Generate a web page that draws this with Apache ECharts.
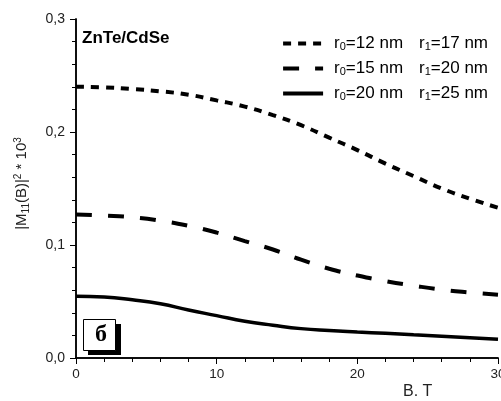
<!DOCTYPE html>
<html><head><meta charset="utf-8">
<script src="https://cdn.jsdelivr.net/npm/echarts@6/dist/echarts.min.js"></script>
<style>html,body{margin:0;padding:0;background:#fff}#c{width:501px;height:401px}</style>
</head><body><div id="c"></div>
<script>
var B = [0, 2, 4, 6, 8, 10, 12, 14, 16, 18, 20, 22, 24, 26, 28, 30];
var s1 = [0.240, 0.2395, 0.238, 0.236, 0.233, 0.228, 0.2225, 0.215, 0.206, 0.195, 0.184, 0.172, 0.161, 0.150, 0.141, 0.133];
var s2 = [0.127, 0.126, 0.1245, 0.1215, 0.117, 0.111, 0.1035, 0.096, 0.087, 0.079, 0.073, 0.068, 0.064, 0.0605, 0.058, 0.056];
var s3 = [0.0547, 0.054, 0.0515, 0.048, 0.0425, 0.0375, 0.0325, 0.029, 0.026, 0.0243, 0.023, 0.0218, 0.0205, 0.0193, 0.018, 0.0165];
var names = ['r0=12 nm r1=17 nm', 'r0=15 nm r1=20 nm', 'r0=20 nm r1=25 nm'];
var legendParts = [['12', '17'], ['15', '20'], ['20', '25']];
var xTicks = { min: 0, max: 30, interval: 10 };
var yTicks = { min: 0, max: 0.3, interval: 0.1 };

function pairs(ys) { return B.map(function (b, i) { return [b, ys[i]]; }); }
var FONT = 'Liberation Sans, Arial, sans-serif';
var axisLine = { lineStyle: { color: '#000', width: 1.5 } };

var chart = echarts.init(document.getElementById('c'));
chart.setOption({
  animation: false,
  grid: { left: 76, right: 3, top: 19, bottom: 43, outerBoundsMode: 'none', containLabel: false },
  legend: {
    orient: 'vertical', right: 8, top: 30, align: 'left', itemGap: 8,
    itemWidth: 40, itemHeight: 17,
    itemStyle: { opacity: 0 },
    lineStyle: { width: 4 },
    data: names,
    formatter: function (n) {
      var p = legendParts[names.indexOf(n)];
      return '{a|r}{s|0}{n|=' + p[0] + ' nm}{p|r}{s|1}{n|=' + p[1] + ' nm}';
    },
    textStyle: {
      fontFamily: FONT, color: '#000',
      rich: {
        a: { fontSize: 17, fontFamily: FONT, padding: [0, 0, 0, 6] },
        n: { fontSize: 17, fontFamily: FONT },
        p: { fontSize: 17, fontFamily: FONT, padding: [0, 0, 0, 16] },
        s: { fontSize: 11, fontFamily: FONT, verticalAlign: 'bottom', padding: [6, 0, 0, 0] }
      }
    }
  },
  xAxis: [{
    type: 'value', min: xTicks.min, max: xTicks.max, interval: xTicks.interval,
    axisLine: axisLine, splitLine: { show: false },
    axisTick: { inside: false, length: 5, lineStyle: { color: '#000', width: 1 } },
    minorTick: { show: true, splitNumber: 5, length: 3, lineStyle: { color: '#000', width: 1 } },
    axisLabel: { fontFamily: FONT, fontSize: 13.5, color: '#222', margin: 9 }
  }, {
    type: 'value', position: 'top', min: xTicks.min, max: xTicks.max, interval: xTicks.interval,
    axisLine: axisLine, splitLine: { show: false },
    axisTick: { inside: true, length: 6, lineStyle: { color: '#000', width: 1 } },
    minorTick: { show: true, splitNumber: 5, length: 4, lineStyle: { color: '#000', width: 1 } },
    axisLabel: { show: false }
  }],
  yAxis: [{
    type: 'value', min: yTicks.min, max: yTicks.max, interval: yTicks.interval,
    axisLine: axisLine, splitLine: { show: false },
    axisTick: { inside: false, length: 6, lineStyle: { color: '#000', width: 1 } },
    minorTick: { show: true, splitNumber: 5, length: 4, lineStyle: { color: '#000', width: 1 } },
    axisLabel: { fontFamily: FONT, fontSize: 14, color: '#222', margin: 11,
      formatter: function (v) { return v.toFixed(1).replace('.', ','); } },
    name: '{n||M}{s|11}{n|(B)|}{u|2}{n| * 10}{u|3}',
    nameLocation: 'middle', nameGap: 45, nameRotate: 90,
    nameTextStyle: {
      fontFamily: FONT, color: '#222', padding: [0, 0, 0, 10],
      rich: {
        n: { fontSize: 15, fontFamily: FONT, color: '#222' },
        s: { fontSize: 10, fontFamily: FONT, color: '#222', verticalAlign: 'bottom', padding: [8, 0, 0, 0] },
        u: { fontSize: 10, fontFamily: FONT, color: '#222', verticalAlign: 'top', padding: [0, 0, 8, 0] }
      }
    }
  }, {
    type: 'value', position: 'right', min: yTicks.min, max: yTicks.max, interval: yTicks.interval,
    axisLine: axisLine, splitLine: { show: false },
    axisTick: { inside: true, length: 6, lineStyle: { color: '#000', width: 1 } },
    minorTick: { show: true, splitNumber: 5, length: 4, lineStyle: { color: '#000', width: 1 } },
    axisLabel: { show: false }
  }],
  series: [
    { name: names[0], type: 'line', smooth: true, symbol: 'none', data: pairs(s1), color: '#000',
      lineStyle: { color: '#000', width: 4, type: [8, 7] } },
    { name: names[1], type: 'line', smooth: true, symbol: 'none', data: pairs(s2), color: '#000',
      lineStyle: { color: '#000', width: 4, type: [16, 16] } },
    { name: names[2], type: 'line', smooth: true, symbol: 'none', data: pairs(s3), color: '#000',
      lineStyle: { color: '#000', width: 3.5 } }
  ],
  graphic: [
    { type: 'text', left: 82, top: 30, style: { text: 'ZnTe/CdSe', font: 'bold 17px ' + FONT, fill: '#000' } },
    { type: 'text', left: 403, top: 384, style: { text: 'B. T', font: '16px ' + FONT, fill: '#222' } },
    { type: 'rect', shape: { x: 88, y: 324, width: 33, height: 31 }, style: { fill: '#000' } },
    { type: 'rect', shape: { x: 83.5, y: 319.5, width: 32, height: 31 }, style: { fill: '#fff', stroke: '#000', lineWidth: 1 } },
    { type: 'text', x: 101, y: 335, style: { text: 'б', font: 'bold 24px "Liberation Serif", "DejaVu Serif", serif', fill: '#000', align: 'center', verticalAlign: 'middle' } }
  ]
});
</script>
</body></html>
